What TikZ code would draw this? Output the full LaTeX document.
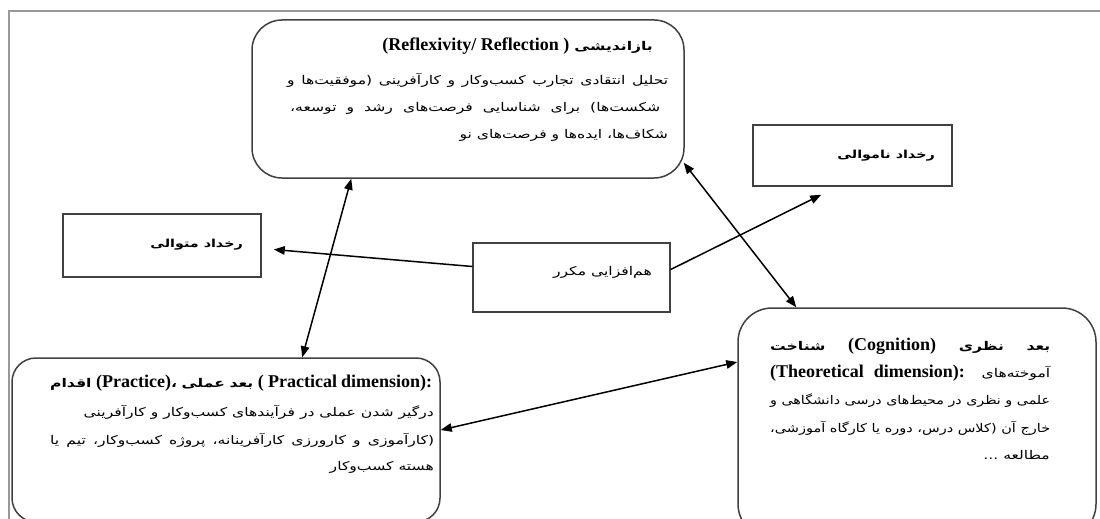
\documentclass[tikz,border=0pt]{standalone}
\usepackage{graphicx}
\usepackage{fontspec}
\setmainfont{Liberation Serif}
\newfontfamily\ar[Script=Arabic,FakeStretch=1.3]{DejaVu Sans}
\TeXXeTstate=1
\usetikzlibrary{arrows.meta,calc}
\newcommand\fsz{\fontsize{12}{14}\selectfont}
\newcommand\fl[1]{{\ar\fsz\beginR #1\endR}}
\newcommand\flb[1]{{\ar\bfseries\fontsize{11}{13}\selectfont\beginR #1\endR}}
\newcommand\wb[1]{\hbox{\ar\bfseries\fsz\beginR #1\endR}}
\newcommand\w[1]{\hbox{\ar\fsz\beginR #1\endR}}
\newcommand\lt[1]{{\rmfamily\bfseries\fontsize{18}{20}\selectfont #1}}
\begin{document}
\begin{tikzpicture}[x=1pt,y=-1pt,
  box/.style={draw=black!75,line width=1.5pt,inner sep=0pt,rectangle},
  txt/.style={inner sep=0pt,anchor=east,font=\ar\fsz},
  jtxt/.style={inner sep=0pt,anchor=west,font=\ar\fsz},
  arr/.style={line width=1.5pt,{Triangle[length=11pt,width=8.5pt]}-{Triangle[length=11pt,width=8.5pt]}},
  arrone/.style={line width=1.5pt,-{Triangle[length=11pt,width=8.5pt]}}]
\useasboundingbox (0,0) rectangle (1100,519);
\clip (0,0) rectangle (1100,519);
\draw[black!40,line width=1.5pt] (9,11) rectangle (1130,540);
% boxes
\node[box,rounded corners=30pt,minimum width=432pt,minimum height=158pt] (refl) at (468,99) {};
\node[box,minimum width=199pt,minimum height=61pt] (nonseq) at (852.5,155.5) {};
\node[box,minimum width=198pt,minimum height=63pt] (seq) at (162,245.5) {};
\node[box,minimum width=197pt,minimum height=69pt] (mid) at (571.5,277.5) {};
\node[box,rounded corners=24pt,minimum width=428pt,minimum height=164pt] (prac) at (226,440) {};
\node[box,rounded corners=34pt,minimum width=358pt,minimum height=230pt] (cog) at (917,423) {};
% texts top
\node[txt] (r1) at (653,46) {\lt{(Reflexivity/ Reflection )} \wb{بازاندیشی}};
\node[jtxt] (r2) at (287,80) {\makebox[381pt][s]{\fl{تحلیل انتقادی تجارب کسب‌وکار و کارآفرینی (موفقیت‌ها و}}};
\node[jtxt] (r3) at (290,108) {\makebox[370pt][s]{\fl{شکست‌ها) برای شناسایی فرصت‌های رشد و توسعه،}}};
\node[txt] (r4) at (668,135) {\fl{شکاف‌ها، ایده‌ها و فرصت‌های نو}};
% small boxes
\node[txt] (tnonseq) at (935,156) {\flb{رخداد ناموالی}};
\node[txt] (tseq) at (243,245) {\flb{رخداد متوالی}};
\node[txt] (tmid) at (652,272) {\fl{هم‌افزایی مکرر}};
% practice
\node[jtxt] (p1) at (50,383) {\makebox[382pt][s]{\wb{اقدام} \lt{(Practice)}\wb{،} \wb{عملی} \wb{بعد} \lt{( Practical dimension):}}};
\node[txt] (p2) at (434,412) {\fl{درگیر شدن عملی در فرآیندهای کسب‌وکار و کارآفرینی}};
\node[jtxt] (p3) at (50,440) {\makebox[384pt][s]{\fl{(کارآموزی و کارورزی کارآفرینانه، پروژه کسب‌وکار، تیم یا}}};
\node[txt] (p4) at (434,467) {\fl{هسته کسب‌وکار}};
% cognition
\node[jtxt] (c1) at (770,346) {\makebox[280pt][s]{\wb{شناخت} \lt{(Cognition)} \wb{نظری} \wb{بعد}}};
\node[jtxt] (c2) at (770,373) {\makebox[280pt][s]{\lt{(Theoretical} \lt{dimension):} \w{آموخته‌های}}};
\node[jtxt] (c3) at (770,401) {\resizebox{280pt}{\height}{\fl{علمی و نظری در محیط‌های درسی دانشگاهی و}}};
\node[jtxt] (c4) at (770,428) {\resizebox{280pt}{\height}{\fl{خارج آن (کلاس درس، دوره یا کارگاه آموزشی،}}};
\node[txt] (c5) at (1050,455) {\fl{مطالعه ...}};
% connectors
\draw[arr] ($(refl.south west)+(100,0)$) -- ($(prac.north west)+(291,0)$);
\draw[arr] ($(refl.south east)+(-1,-16)$) -- ($(cog.north west)+(59,0)$);
\draw[arrone] ($(mid.west)+(0,-11)$) -- ($(seq.east)+(12,4)$);
\draw[arrone] ($(mid.east)+(0,-8)$) -- ($(nonseq.south west)+(69,8)$);
\draw[arr] ($(prac.east)+(0,-10)$) -- ($(cog.west)+(0,-61)$);
\end{tikzpicture}
\end{document}
